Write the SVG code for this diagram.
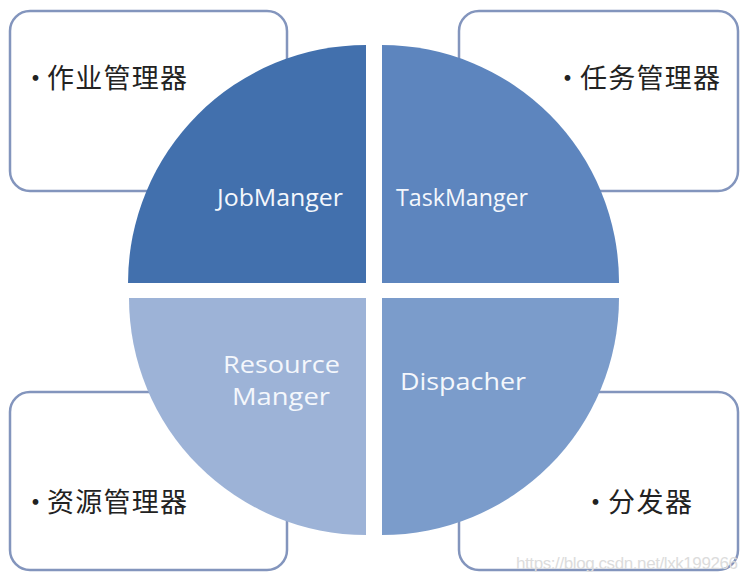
<svg xmlns="http://www.w3.org/2000/svg" width="745" height="582" viewBox="0 0 745 582">
<style>
.box{fill:#ffffff;stroke:#8395bd;stroke-width:2.5}
.cjk{font-family:"Noto Sans CJK SC","Noto Sans",sans-serif;font-size:27px;fill:#222222}
.lbl{font-family:"Open Sans","Noto Sans",sans-serif;font-size:23px;fill:#f4f7fc}
.wm{font-family:"Liberation Sans",Arial,sans-serif;font-size:17px;fill:#dcdcdc}
</style>
<rect width="745" height="582" fill="#ffffff"/>
<g id="box-job"><rect class="box" x="10" y="11" width="277" height="180" rx="20"/><text class="cjk" x="22" y="88">•<tspan x="47" textLength="140">作业管理器</tspan></text></g>
<g id="box-task"><rect class="box" x="459" y="11" width="279" height="180" rx="20"/><text class="cjk" x="554" y="88">•<tspan x="580" textLength="140">任务管理器</tspan></text></g>
<g id="box-res"><rect class="box" x="10" y="392" width="277" height="178" rx="20"/><text class="cjk" x="22" y="512">•<tspan x="47" textLength="140">资源管理器</tspan></text></g>
<g id="box-disp"><rect class="box" x="459" y="392" width="279" height="178" rx="20"/><text class="cjk" x="582" y="512">•<tspan x="608" textLength="84">分发器</tspan></text></g>
<g id="q-job"><path d="M366,283 L128,283 A238,238 0 0 1 366,45 Z" fill="#4270ad"/><text class="lbl" x="217" y="206" textLength="126" lengthAdjust="spacingAndGlyphs">JobManger</text></g>
<g id="q-task"><path d="M382,283 L382,45 A237,237 0 0 1 619,283 Z" fill="#5d85be"/><text class="lbl" x="396" y="206" textLength="132" lengthAdjust="spacingAndGlyphs">TaskManger</text></g>
<g id="q-res"><path d="M366,298 L366,535 A237,237 0 0 1 129,298 Z" fill="#9db3d7"/><text class="lbl" x="223" y="373" textLength="117" lengthAdjust="spacingAndGlyphs">Resource</text><text class="lbl" x="232" y="405" textLength="98" lengthAdjust="spacingAndGlyphs">Manger</text></g>
<g id="q-disp"><path d="M382,298 L619,298 A237,237 0 0 1 382,535 Z" fill="#7b9ccb"/><text class="lbl" x="400" y="390" textLength="126" lengthAdjust="spacingAndGlyphs">Dispacher</text></g>
<g id="connectors"/>
<text class="wm" x="516" y="569" textLength="222">https://blog.csdn.net/lxk199266</text>
</svg>
